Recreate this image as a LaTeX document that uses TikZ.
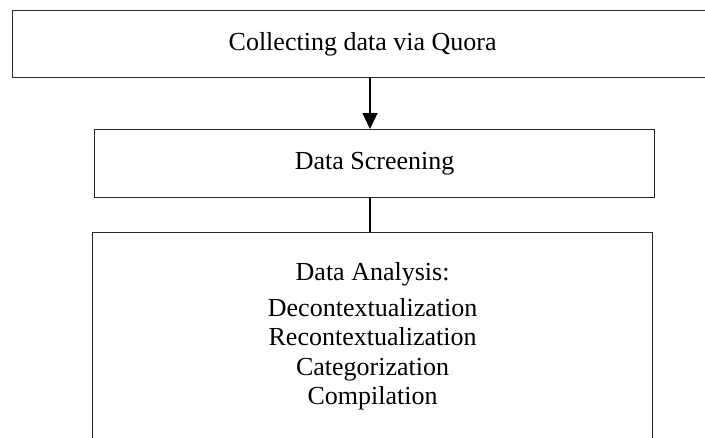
\documentclass[tikz,border=0pt]{standalone}
\usepackage{fontspec}
\setmainfont{Liberation Serif}
\usetikzlibrary{arrows.meta,positioning,calc}
\tikzset{
 block/.style={draw=black!85,line width=1.2pt,align=center,anchor=north west,
   font=\fontsize{26}{29.5}\selectfont,inner sep=0pt},
 arr/.style={-{Triangle[length=16pt,width=15pt]},line width=1.2pt,draw=black},
 link/.style={line width=1.2pt,draw=black}
}

\begin{document}
\begin{tikzpicture}[x=1pt,y=1pt]
\useasboundingbox (0,0) rectangle (705,-437);
\coordinate (mid) at (370,0);
\node[block,minimum width=700pt,minimum height=67pt] (quora) at (12,-10) {Collecting data via Quora};
\node[block,minimum width=560pt,minimum height=68pt] (screen) at (94,-129) {Data Screening};
\node[block,minimum width=560pt,minimum height=208pt] (analysis) at (92,-232)
 {Data Analysis:\\[6pt]Decontextualization\\Recontextualization\\Categorization\\Compilation};
\draw[arr] (quora.south -| mid) -- (screen.north -| mid);
\draw[link] (screen.south -| mid) -- (analysis.north -| mid);
\end{tikzpicture}
\end{document}
